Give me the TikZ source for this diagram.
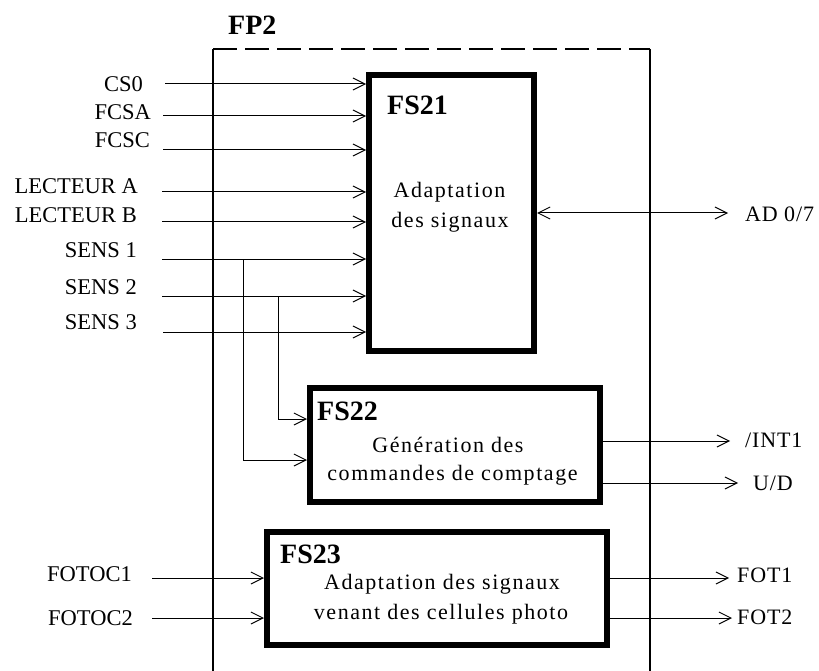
\documentclass[tikz,border=0pt]{standalone}
\usepackage{fontspec}
\setmainfont{Liberation Serif}
\newfontfamily\spacedfont[LetterSpace=7]{Liberation Serif}
\newfontfamily\rlabfont[LetterSpace=4]{Liberation Serif}
\usetikzlibrary{arrows.meta}
\begin{document}
\begin{tikzpicture}[x=1pt,y=-1pt,
  tip/.tip={Straight Barb[length=12pt,width=12pt,line width=1pt]},
  conn/.style={line width=1pt,-tip},
  conntwo/.style={line width=1pt,tip-tip},
  frame/.style={line width=2pt},
  fsbox/.style={draw,line width=6pt,inner sep=0pt},
  lab/.style={inner sep=0pt,font=\fontsize{22.5}{26}\selectfont},
  rlab/.style={inner sep=0pt,font=\rlabfont\fontsize{22}{26}\selectfont},
  title/.style={inner sep=0pt,font=\bfseries\fontsize{28}{32}\selectfont},
  body/.style={inner sep=0pt,font=\spacedfont\fontsize{22}{26}\selectfont}]
\useasboundingbox (0,0) rectangle (819,671);
% FP2 frame
\draw[frame] (213,671) -- (213,49);
\draw[frame,dash pattern=on 24pt off 8pt] (213,49) -- (650,49);
\draw[frame] (650,49) -- (650,671);
\node[title,anchor=base west] (fp2) at (228,35) {FP2};
% blocks
\node[fsbox,minimum width=165pt,minimum height=276pt] (fs21) at (451.5,213) {};
\node[fsbox,minimum width=290pt,minimum height=114pt] (fs22) at (455,445) {};
\node[fsbox,minimum width=340pt,minimum height=113pt] (fs23) at (437,588.5) {};
\node[title,anchor=base west] (t21) at (387,115) {FS21};
\node[title,anchor=base west] (t22) at (317,420) {FS22};
\node[title,anchor=base west] (t23) at (280,563) {FS23};
\node[body,anchor=base] (b21a) at (449.5,197) {Adaptation};
\node[body,anchor=base] (b21b) at (450,227) {des signaux};
\node[body,anchor=base] (b22a) at (448,452) {Génération des};
\node[body,anchor=base] (b22b) at (452.5,480) {commandes de comptage};
\node[body,anchor=base] (b23a) at (442,589) {Adaptation des signaux};
\node[body,anchor=base] (b23b) at (441,619) {venant des cellules photo};
% left labels
\node[lab,anchor=east] (cs0) at (143,84) {CS0};
\node[lab,anchor=east] (fcsa) at (151,112) {FCSA};
\node[lab,anchor=east] (fcsc) at (150,140) {FCSC};
\node[lab,anchor=east] (lea) at (138,186) {LECTEUR A};
\node[lab,anchor=east] (leb) at (137,215) {LECTEUR B};
\node[lab,anchor=east] (s1) at (137,250) {SENS 1};
\node[lab,anchor=east] (s2) at (137,287) {SENS 2};
\node[lab,anchor=east] (s3) at (137,322) {SENS 3};
\node[lab,anchor=east] (fotoc1) at (132,574) {FOTOC1};
\node[lab,anchor=east] (fotoc2) at (133,618) {FOTOC2};
% right labels
\node[rlab,anchor=west] (ad) at (745,214) {AD 0/7};
\node[rlab,anchor=west] (int1) at (745,440) {/INT1};
\node[rlab,anchor=west] (ud) at (753,483) {U/D};
\node[rlab,anchor=west] (fot1) at (737,575) {FOT1};
\node[rlab,anchor=west] (fot2) at (737,617) {FOT2};
% connector ends
\coordinate (cs0s) at (165,84);
\coordinate (fcsas) at (163,116);
\coordinate (fcscs) at (163,150);
\coordinate (leas) at (162,192);
\coordinate (lebs) at (162,222);
\coordinate (s1s) at (162,259);
\coordinate (s2s) at (162,296);
\coordinate (s3s) at (163,332);
\coordinate (s1b) at (243,259);
\coordinate (s2b) at (278,296);
\coordinate (fotoc1s) at (152,578);
\coordinate (fotoc2s) at (152,618);
\coordinate (adtip) at (728,213);
\coordinate (int1tip) at (730,441);
\coordinate (udtip) at (738,483);
\coordinate (fot1tip) at (729,578);
\coordinate (fot2tip) at (732,618);
% inputs
\draw[conn] (cs0s) -- (cs0s -| fs21.west);
\draw[conn] (fcsas) -- (fcsas -| fs21.west);
\draw[conn] (fcscs) -- (fcscs -| fs21.west);
\draw[conn] (leas) -- (leas -| fs21.west);
\draw[conn] (lebs) -- (lebs -| fs21.west);
\draw[conn] (s1s) -- (s1s -| fs21.west);
\draw[conn] (s2s) -- (s2s -| fs21.west);
\draw[conn] (s3s) -- (s3s -| fs21.west);
\draw[conn] (s1b) |- (fs22.west |- 0,460);
\draw[conn] (s2b) |- (fs22.west |- 0,419);
\draw[conn] (fotoc1s) -- (fotoc1s -| fs23.west);
\draw[conn] (fotoc2s) -- (fotoc2s -| fs23.west);
% outputs
\draw[conntwo] (fs21.east |- adtip) -- (adtip);
\draw[conn] (fs22.east |- int1tip) -- (int1tip);
\draw[conn] (fs22.east |- udtip) -- (udtip);
\draw[conn] (fs23.east |- fot1tip) -- (fot1tip);
\draw[conn] (fs23.east |- fot2tip) -- (fot2tip);
\end{tikzpicture}
\end{document}
